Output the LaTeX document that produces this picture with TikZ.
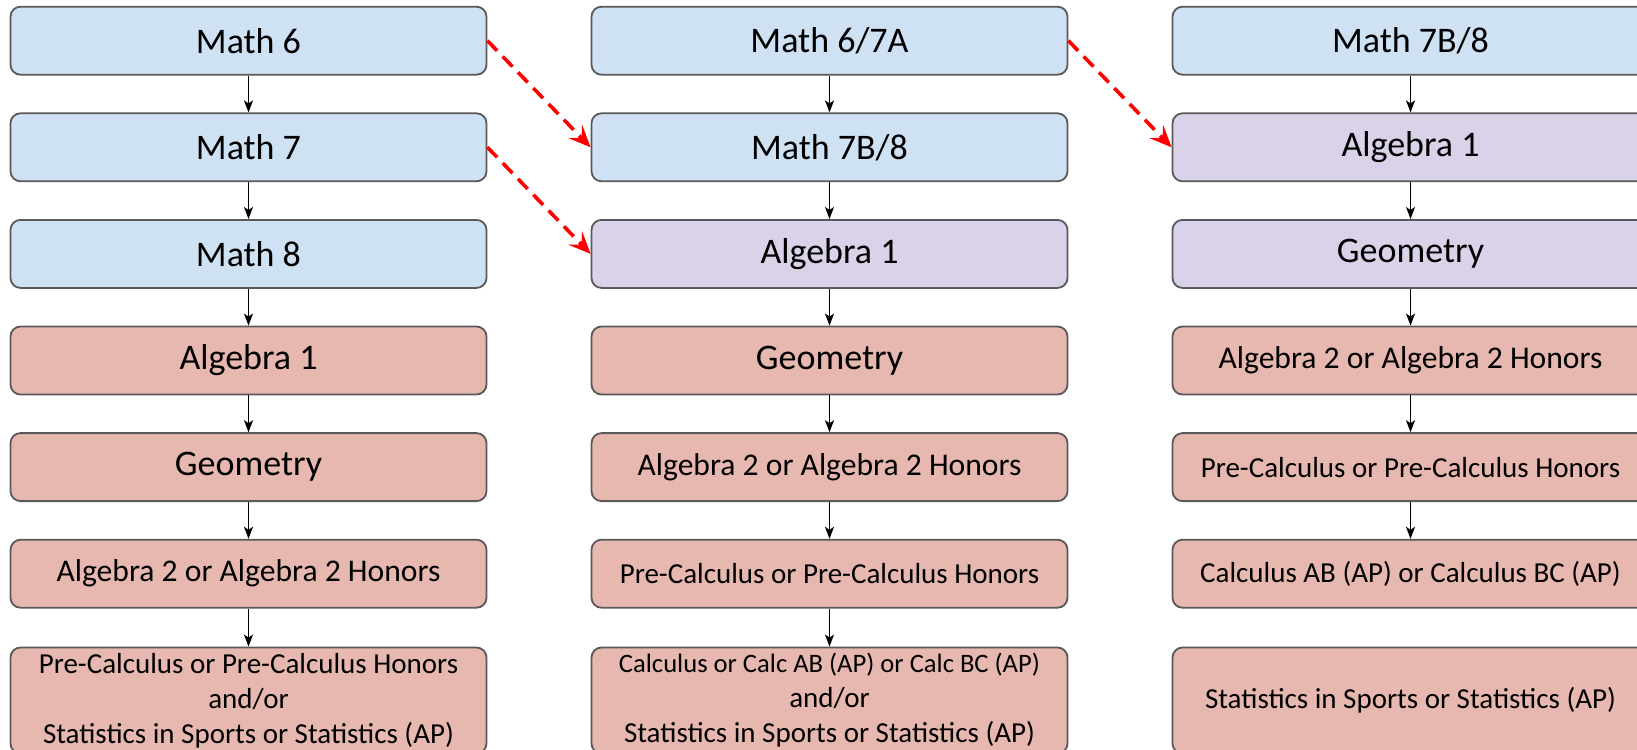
\documentclass[tikz,border=0pt]{standalone}
\usepackage{fontspec}
\setmainfont{Carlito}
\usetikzlibrary{arrows.meta}
\definecolor{bluef}{HTML}{CFE2F3}
\definecolor{purf}{HTML}{D9D2E9}
\definecolor{redf}{HTML}{E6B8AF}
\definecolor{bord}{HTML}{595959}
\definecolor{dred}{HTML}{FF0000}
\begin{document}
\begin{tikzpicture}[x=1pt,y=-1pt,
  box/.style={draw=bord, line width=1.8pt, rounded corners=10pt, minimum width=476pt, minimum height=68pt, align=center, inner sep=0pt, text=black},
  bbox/.style={box, fill=bluef},
  pbox/.style={box, fill=purf},
  rbox/.style={box, fill=redf},
  tall/.style={minimum height=106pt},
  big/.style={font=\fontsize{36pt}{43pt}\selectfont},
  mid/.style={font=\fontsize{31.6pt}{38pt}\selectfont},
  sml/.style={font=\fontsize{29pt}{35pt}\selectfont},
  arr/.style={-{Stealth[length=12pt,width=9pt,inset=3pt]}, line width=1.6pt, black},
  rarr/.style={-{Stealth[length=22pt,width=19pt,inset=9pt]}, line width=3.6pt, dred, dash pattern=on 14pt off 8pt}
]
\useasboundingbox (0,0) rectangle (1637,749);
\clip (0,0) rectangle (1637,749);
% column 1
\node[bbox,big] (a1) at (248.5,40.7) {Math 6};
\node[bbox,big] (a2) at (248.5,147.3) {Math 7};
\node[bbox,big] (a3) at (248.5,253.9) {Math 8};
\node[rbox,big] (a4) at (248.5,360.5) {Algebra 1};
\node[rbox,big] (a5) at (248.5,467.1) {Geometry};
\node[rbox,mid] (a6) at (248.5,573.7) {Algebra 2 or Algebra 2 Honors};
\node[rbox,sml,tall] (a7) at (248.5,700.5) {Pre-Calculus or Pre-Calculus Honors\\and/or\\Statistics in Sports or Statistics (AP)};
% column 2
\node[bbox,big] (b1) at (829.5,40.7) {Math 6/7A};
\node[bbox,big] (b2) at (829.5,147.3) {Math 7B/8};
\node[pbox,big] (b3) at (829.5,253.9) {Algebra 1};
\node[rbox,big] (b4) at (829.5,360.5) {Geometry};
\node[rbox,mid] (b5) at (829.5,467.1) {Algebra 2 or Algebra 2 Honors};
\node[rbox,sml] (b6) at (829.5,573.7) {Pre-Calculus or Pre-Calculus Honors};
\node[rbox,sml,tall] (b7) at (829.5,700.5) {{\fontsize{26.6pt}{35pt}\selectfont Calculus or Calc AB (AP) or Calc BC (AP)}\\and/or\\Statistics in Sports or Statistics (AP)};
% column 3
\node[bbox,big] (c1) at (1410.5,40.7) {Math 7B/8};
\node[pbox,big] (c2) at (1410.5,147.3) {Algebra 1};
\node[pbox,big] (c3) at (1410.5,253.9) {Geometry};
\node[rbox,mid] (c4) at (1410.5,360.5) {Algebra 2 or Algebra 2 Honors};
\node[rbox,sml] (c5) at (1410.5,467.1) {Pre-Calculus or Pre-Calculus Honors};
\node[rbox,sml] (c6) at (1410.5,573.7) {Calculus AB (AP) or Calculus BC (AP)};
\node[rbox,sml,tall] (c7) at (1410.5,700.5) {Statistics in Sports or Statistics (AP)};
% vertical arrows
\foreach \p/\q in {a1/a2,a2/a3,a3/a4,a4/a5,a5/a6,a6/a7,b1/b2,b2/b3,b3/b4,b4/b5,b5/b6,b6/b7,c1/c2,c2/c3,c3/c4,c4/c5,c5/c6}
  \draw[arr] (\p) -- (\q);
% red dashed arrows
\draw[rarr] (a1.east) -- (b2.west);
\draw[rarr] (a2.east) -- (b3.west);
\draw[rarr] (b1.east) -- (c2.west);
\end{tikzpicture}
\end{document}
